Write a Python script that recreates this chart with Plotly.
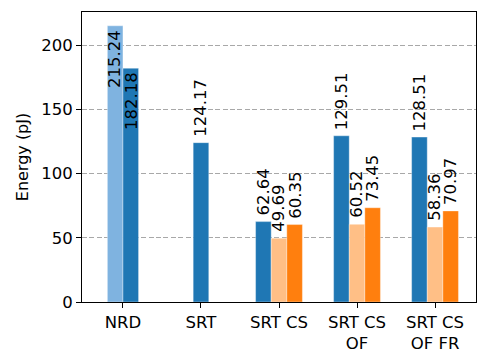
import plotly.graph_objects as go

categories = ["NRD", "SRT", "SRT CS", "SRT CS<br>OF", "SRT CS<br>OF FR"]

# one list per bar series, None where the configuration has no bar
series_names = ["baseline light", "total", "variant light", "variant"]
light_blue = [215.24, None, None, None, None]
blue = [182.18, 124.17, 62.64, 129.51, 128.51]
light_orange = [None, None, 49.69, 60.52, 58.36]
orange = [None, None, 60.35, 73.45, 70.97]

y_ticks = [0, 50, 100, 150, 200]

series = [light_blue, blue, light_orange, orange]
colors = ["#7fb3e0", "#1f77b4", "#ffbf86", "#ff7f0e"]
bar_width = 0.2
# labels of these (series, category) pairs sit inside the top of the bar
inside_labels = {(0, 0), (1, 0)}

fig = go.Figure()
annotations = []

# position of each bar: bars present in a category are centred on its tick
positions = [[None] * len(categories) for _ in series]
for c in range(len(categories)):
    present = [s for s in range(len(series)) if series[s][c] is not None]
    n = len(present)
    for i, s in enumerate(present):
        positions[s][c] = c + (i - (n - 1) / 2) * bar_width

for s, vals in enumerate(series):
    xs, ys = [], []
    for c, v in enumerate(vals):
        if v is None:
            continue
        xs.append(positions[s][c])
        ys.append(v)
        inside = (s, c) in inside_labels
        annotations.append(dict(
            x=positions[s][c], y=v, xref="x", yref="y",
            text=f"{v:.2f}", textangle=-90, showarrow=False,
            xanchor="center", yanchor="top" if inside else "bottom",
            yshift=-2 if inside else 4,
            font=dict(size=16.5, color="black", family="DejaVu Sans"),
        ))
    fig.add_trace(go.Bar(
        x=xs, y=ys, width=bar_width, name=series_names[s],
        marker=dict(color=colors[s], line=dict(color="rgba(255,255,255,0.45)", width=0.8)),
        showlegend=False,
    ))

fig.update_layout(
    barmode="overlay",
    width=489, height=363,
    margin=dict(l=82, r=13, t=12, b=61),
    plot_bgcolor="white",
    paper_bgcolor="white",
    font=dict(family="DejaVu Sans", size=16.5, color="black"),
    annotations=annotations,
)

fig.update_xaxes(
    range=[-0.525, 4.525],
    tickvals=list(range(len(categories))),
    ticktext=categories,
    tickfont=dict(family="DejaVu Sans", size=16.5, color="black"),
    ticks="outside", ticklen=5, tickwidth=1, tickcolor="black",
    showline=True, linecolor="black", linewidth=1, mirror=True,
    showgrid=False, zeroline=False, automargin=False,
)
fig.update_yaxes(
    range=[0, 226.0],
    tickvals=y_ticks,
    tickfont=dict(family="DejaVu Sans", size=16.5, color="black"),
    ticks="outside", ticklen=5, tickwidth=1, tickcolor="black",
    showline=True, linecolor="black", linewidth=1, mirror=True,
    showgrid=True, gridcolor="#a8a8a8", gridwidth=1, griddash="5px,2.4px",
    zeroline=False, automargin=False,
    title=dict(text="Energy (pJ)", standoff=8, font=dict(size=16)),
)

# the page's default body margin would shift the figure by 8px
fig.write_html("out.html", config={"displayModeBar": False},
               post_script="document.body.style.margin='0';")
